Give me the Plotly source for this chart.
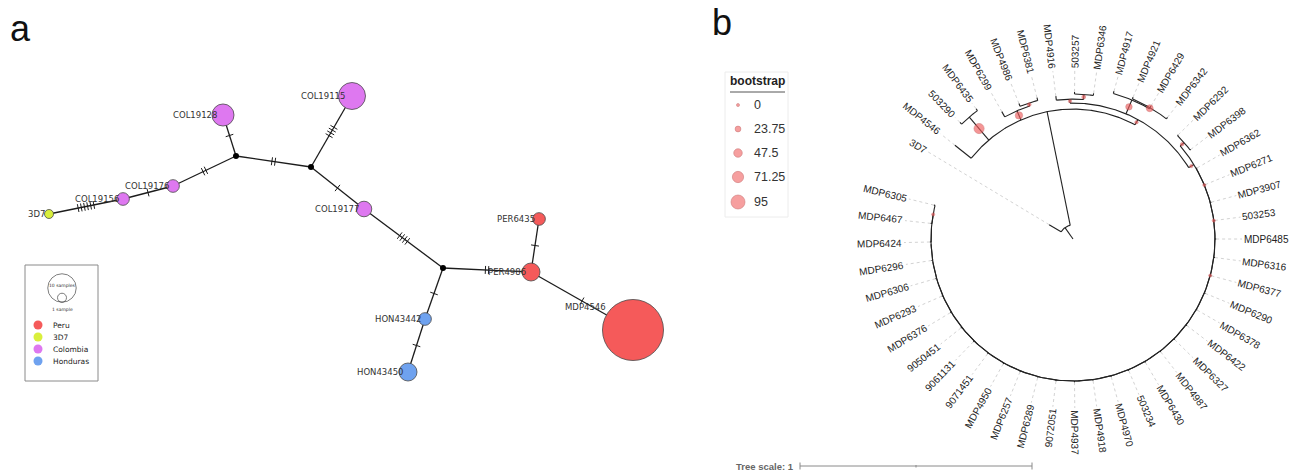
import math
import plotly.graph_objects as go

W, H = 1297, 474

# ---------------- Panel a : haplotype network (layout coordinates) ----------------
hap_names = ["3D7", "COL19156", "COL19176", "COL19128", "COL19115", "COL19177",
             "PER4986", "PER6435", "MDP4546", "HON43442", "HON43450"]
hap_x = [49, 123, 173, 223, 352, 364, 531, 539, 633, 425, 408]
hap_y = [214, 199, 186, 115, 96, 209, 272, 219, 330, 319, 372]
hap_count = [1, 2, 2, 6, 9, 3, 4, 2, 46, 2, 4]
hap_group = ["3D7", "Colombia", "Colombia", "Colombia", "Colombia", "Colombia",
             "Peru", "Peru", "Peru", "Honduras", "Honduras"]
mv_names = ["mv1", "mv2", "mv3"]
mv_x = [236, 311, 443]
mv_y = [156, 167, 268]
edge_from = ["3D7", "COL19156", "COL19176", "mv1", "mv1", "mv2", "mv2",
             "COL19177", "mv3", "PER4986", "PER4986", "mv3", "HON43442"]
edge_to = ["COL19156", "COL19176", "mv1", "COL19128", "mv2", "COL19115", "COL19177",
           "mv3", "PER4986", "PER6435", "MDP4546", "HON43442", "HON43450"]
edge_mutations = [6, 1, 2, 1, 2, 4, 1, 4, 2, 1, 1, 1, 1]
legend_groups = ["Peru", "3D7", "Colombia", "Honduras"]
legend_sample_sizes = [10, 1]

# ---------------- Panel b : circular tree ----------------
leaf_order = ["3D7", "MDP4546", "503290", "MDP6435", "MDP6299", "MDP4986", "MDP6381",
              "MDP4916", "503257", "MDP6346", "MDP4917", "MDP4921", "MDP6429", "MDP6342",
              "MDP6292", "MDP6398", "MDP6362", "MDP6271", "MDP3907", "503253", "MDP6485",
              "MDP6316", "MDP6377", "MDP6290", "MDP6378", "MDP6422", "MDP6327", "MDP4987",
              "MDP6430", "503234", "MDP4970", "MDP4918", "MDP4937", "9072051", "MDP6289",
              "MDP6257", "MDP4950", "9071451", "9061131", "9050451", "MDP6376", "MDP6293",
              "MDP6306", "MDP6296", "MDP6424", "MDP6467", "MDP6305"]
tree_children = {
    "root": ["R"],
    "R": ["3D7", "A"],
    "A": ["MDP4546", "C1", "C2", "B"],
    "C1": ["503290", "MDP6435"],
    "C2": ["MDP6299", "C2b"],
    "C2b": ["MDP4986", "MDP6381"],
    "B": ["C3", "C4", "D"],
    "C3": ["MDP4916", "C3b"],
    "C3b": ["503257", "MDP6346"],
    "C4": ["MDP4917", "C4b"],
    "C4b": ["MDP4921", "MDP6429", "MDP6342"],
    "D": ["D1", "L16"],
    "D1": ["MDP6292", "MDP6398"],
}
branch_length = {
    "R": 0.06, "3D7": 0.06, "A": 0.50, "MDP4546": 0.09, "C1": 0.13, "503290": 0.01,
    "MDP6435": 0.01, "C2": 0.043, "MDP6299": 0.026, "C2b": 0.013, "MDP4986": 0.013,
    "MDP6381": 0.013, "B": 0.026, "C3": 0.017, "MDP4916": 0.017, "C3b": 0.022,
    "503257": 0.009, "MDP6346": 0.009, "C4": 0.065, "MDP4917": 0.01, "C4b": 0.005,
    "MDP4921": 0.008, "MDP6429": 0.008, "MDP6342": 0.008, "D": 0.026, "D1": 0.022,
    "MDP6292": 0.004, "MDP6398": 0.004,
}
ladder_node_length = 0.0
ladder_leaf_length = 0.005
bootstrap = {"C1": 62, "C2": 38, "C2b": 6, "B": 3, "C3": 4, "C3b": 8, "C4": 30,
             "C4b": 34, "D": 2, "D1": 4, "L16": 1, "L18": 2, "L21": 1, "L45": 1}
bootstrap_legend = [0, 23.75, 47.5, 71.25, 95]
tree_scale_units = 1

# ---------------- styling / layout constants ----------------
group_colors = {"Peru": "#f55a5a", "3D7": "#d9ef3c", "Colombia": "#de78f0", "Honduras": "#6fa2ef"}
BS_FILL = "rgba(240,92,92,0.92)"
BS_LINE = "#b84444"
CX, CY = 1073, 239          # tree centre (px)
K = 232                     # px per tree unit
START, STEP = 149.0, 7.45   # leaf angles (deg)
RLAB = 171                  # label radius (px)
TREE_FONT = 10

# build ladder part of the tree from the leaf order
ladder = leaf_order[16:]
for k in range(len(ladder) - 1):
    name = "L%d" % (16 + k)
    nxt = ladder[k + 1] if k == len(ladder) - 2 else "L%d" % (17 + k)
    tree_children[name] = [ladder[k], nxt]
    branch_length.setdefault(name, ladder_node_length)
for lf in ladder:
    branch_length.setdefault(lf, ladder_leaf_length)

fig = go.Figure()

# ======== Panel a ========
pos = {n: (x, y) for n, x, y in zip(hap_names, hap_x, hap_y)}
pos.update({n: (x, y) for n, x, y in zip(mv_names, mv_x, mv_y)})

ex, ey, hx, hy = [], [], [], []
for a, b, m in zip(edge_from, edge_to, edge_mutations):
    (x1, y1), (x2, y2) = pos[a], pos[b]
    ex += [x1, x2, None]
    ey += [y1, y2, None]
    L = math.hypot(x2 - x1, y2 - y1)
    ux, uy = (x2 - x1) / L, (y2 - y1) / L
    nx, ny = -uy, ux
    mx, my = (x1 + x2) / 2, (y1 + y2) / 2
    for k in range(m):
        s = (k - (m - 1) / 2) * 3.2
        cx, cy = mx + s * ux, my + s * uy
        hx += [cx - 4 * nx, cx + 4 * nx, None]
        hy += [cy - 4 * ny, cy + 4 * ny, None]

fig.add_trace(go.Scatter(x=ex, y=ey, mode="lines", line=dict(color="#1c1c1c", width=1.3), hoverinfo="skip"))
fig.add_trace(go.Scatter(x=hx, y=hy, mode="lines", line=dict(color="#1c1c1c", width=1), hoverinfo="skip"))
fig.add_trace(go.Scatter(x=mv_x, y=mv_y, mode="markers", marker=dict(color="black", size=6), hoverinfo="skip"))


def diam(n):
    return 9 * math.sqrt(n)


fig.add_trace(go.Scatter(
    x=hap_x, y=hap_y, mode="markers", text=hap_names,
    marker=dict(size=[diam(c) for c in hap_count], color=[group_colors[g] for g in hap_group],
                line=dict(color="#4a4a4a", width=0.8), opacity=1),
    hoverinfo="text"))

for n, x, y, c in zip(hap_names, hap_x, hap_y, hap_count):
    r = diam(c) / 2
    if r > 20:
        ax, ay = x - 0.83 * r, y - 0.77 * r
    else:
        ax, ay = x - 0.35 * r, y
    fig.add_annotation(x=ax, y=ay, text=n, showarrow=False, xanchor="right", yanchor="middle",
                       font=dict(family="DejaVu Sans", size=8.5, color="#333"))

# legend box panel a
fig.add_shape(type="rect", x0=25, y0=265, x1=98, y1=381, line=dict(color="#8a8a8a", width=1))
big_d, small_d = diam(legend_sample_sizes[0]), diam(legend_sample_sizes[1])
big_cy = 288
bottom = big_cy + big_d / 2
fig.add_trace(go.Scatter(x=[62, 62], y=[big_cy, bottom - small_d / 2], mode="markers",
                         marker=dict(size=[big_d, small_d], color="rgba(0,0,0,0)",
                                     line=dict(color="#333", width=0.9)), hoverinfo="skip"))
fig.add_annotation(x=62, y=285, text="%d samples" % legend_sample_sizes[0], showarrow=False,
                   font=dict(family="DejaVu Sans", size=4.5, color="#333"))
fig.add_annotation(x=62, y=309, text="%d sample" % legend_sample_sizes[1], showarrow=False,
                   font=dict(family="DejaVu Sans", size=4.5, color="#333"))
leg_y = [325, 337, 349, 361]
fig.add_trace(go.Scatter(x=[38] * 4, y=leg_y, mode="markers",
                         marker=dict(size=9, color=[group_colors[g] for g in legend_groups]),
                         hoverinfo="skip"))
for g, y in zip(legend_groups, leg_y):
    fig.add_annotation(x=51, y=y, text=g, showarrow=False, xanchor="left", yanchor="middle",
                       font=dict(family="DejaVu Sans", size=7.5, color="#222"))

# ======== Panel b ========
leaf_angle = {n: START - i * STEP for i, n in enumerate(leaf_order)}
node_r, node_a, parent = {}, {}, {}


def layout_tree(node, r_par):
    r = r_par + branch_length.get(node, 0.0)
    node_r[node] = r
    if node in tree_children:
        angs = []
        for c in tree_children[node]:
            parent[c] = node
            angs.append(layout_tree(c, r))
        a = (angs[0] + angs[-1]) / 2
    else:
        a = leaf_angle[node]
    node_a[node] = a
    return a


layout_tree("root", 0.0)


def P(r_units, a_deg):
    t = math.radians(a_deg)
    return CX + r_units * K * math.cos(t), CY - r_units * K * math.sin(t)


tx, ty = [], []
for n in node_r:
    if n in parent:
        x1, y1 = P(node_r[parent[n]], node_a[n])
        x2, y2 = P(node_r[n], node_a[n])
        tx += [x1, x2, None]
        ty += [y1, y2, None]
    if n in tree_children:
        a0 = node_a[tree_children[n][0]]
        a1 = node_a[tree_children[n][-1]]
        steps = max(2, int(abs(a1 - a0) / 0.5) + 1)
        for s in range(steps + 1):
            x, y = P(node_r[n], a0 + (a1 - a0) * s / steps)
            tx.append(x)
            ty.append(y)
        tx.append(None)
        ty.append(None)

# dotted leaders
dx, dy = [], []
for n in leaf_order:
    x1, y1 = P(node_r[n], node_a[n])
    x2, y2 = P((RLAB - 2) / K, node_a[n])
    dx += [x1, x2, None]
    dy += [y1, y2, None]
fig.add_trace(go.Scatter(x=dx, y=dy, mode="lines", line=dict(color="#cdcdcd", width=0.9, dash="dot"),
                         hoverinfo="skip"))
fig.add_trace(go.Scatter(x=tx, y=ty, mode="lines", line=dict(color="#222", width=1.1), hoverinfo="skip"))

# bootstrap symbols at branch midpoints
bx, by, bs = [], [], []
for n, v in bootstrap.items():
    rm = (node_r[parent[n]] + node_r[n]) / 2
    x, y = P(rm, node_a[n])
    bx.append(x)
    by.append(y)
    bs.append(3 + v / 95 * 11)
fig.add_trace(go.Scatter(x=bx, y=by, mode="markers",
                         marker=dict(size=bs, color=BS_FILL, line=dict(color=BS_LINE, width=0.5)),
                         hoverinfo="skip"))

# leaf labels
CHW = {"M": 833, "D": 722, "P": 667}


def text_w(s, size):
    return sum(CHW.get(ch, 556) for ch in s) * size / 1000


for n in leaf_order:
    a = node_a[n]
    a = (a + 180) % 360 - 180
    w = text_w(n, TREE_FONT)
    x, y = P((RLAB + w / 2) / K, a)
    if math.cos(math.radians(a)) >= 0:
        ang = -a
    else:
        ang = 180 - a
    ang = (ang + 180) % 360 - 180
    fig.add_annotation(x=x, y=y, text=n, showarrow=False, textangle=ang, xanchor="center", yanchor="middle",
                       font=dict(family="Liberation Sans", size=TREE_FONT, color="#222"))

# bootstrap legend
fig.add_shape(type="rect", x0=725, y0=72, x1=788, y1=217, line=dict(color="#ececec", width=1),
              fillcolor="rgba(0,0,0,0)")
fig.add_annotation(x=757, y=81, text="<b>bootstrap</b>", showarrow=False,
                   font=dict(family="Liberation Sans", size=12, color="#222"))
fig.add_shape(type="line", x0=730, x1=785, y0=92, y1=92, line=dict(color="#555", width=1))
bl_y = [105, 129, 153, 177, 202]
fig.add_trace(go.Scatter(x=[738] * 5, y=bl_y, mode="markers",
                         marker=dict(size=[3 + v / 95 * 11 for v in bootstrap_legend],
                                     color="rgba(242,112,112,0.95)", line=dict(color=BS_LINE, width=0.6)),
                         hoverinfo="skip"))
for v, y in zip(bootstrap_legend, bl_y):
    fig.add_annotation(x=752, y=y, text=("%g" % v), showarrow=False, xanchor="left", yanchor="middle",
                       font=dict(family="Liberation Sans", size=12.5, color="#333"))

# tree scale
sx0 = 800
sx1 = sx0 + tree_scale_units * K
fig.add_trace(go.Scatter(x=[sx0, sx1, None, sx0, sx0, None, sx1, sx1, None, (sx0 + sx1) / 2, (sx0 + sx1) / 2],
                         y=[466, 466, None, 462.5, 469.5, None, 462.5, 469.5, None, 465, 467.5],
                         mode="lines", line=dict(color="#8a8a8a", width=1), hoverinfo="skip"))
fig.add_annotation(x=796, y=466, text="<b>Tree scale: %g</b>" % tree_scale_units, showarrow=False,
                   xanchor="right", yanchor="middle", font=dict(family="Liberation Sans", size=9.5, color="#666"))

# panel letters
fig.add_annotation(x=8, y=28, text="a", showarrow=False, xanchor="left", yanchor="middle",
                   font=dict(family="Liberation Sans", size=36, color="#111"))
fig.add_annotation(x=710, y=22, text="b", showarrow=False, xanchor="left", yanchor="middle",
                   font=dict(family="Liberation Sans", size=36, color="#111"))

fig.update_layout(
    width=W, height=H, margin=dict(l=0, r=0, t=0, b=0),
    paper_bgcolor="white", plot_bgcolor="white", showlegend=False,
    xaxis=dict(range=[0, W], visible=False, fixedrange=True),
    yaxis=dict(range=[H, 0], visible=False, fixedrange=True),
)

fig.write_html("out.html", config={"displayModeBar": False},
               post_script="document.body.style.margin='0px';")
